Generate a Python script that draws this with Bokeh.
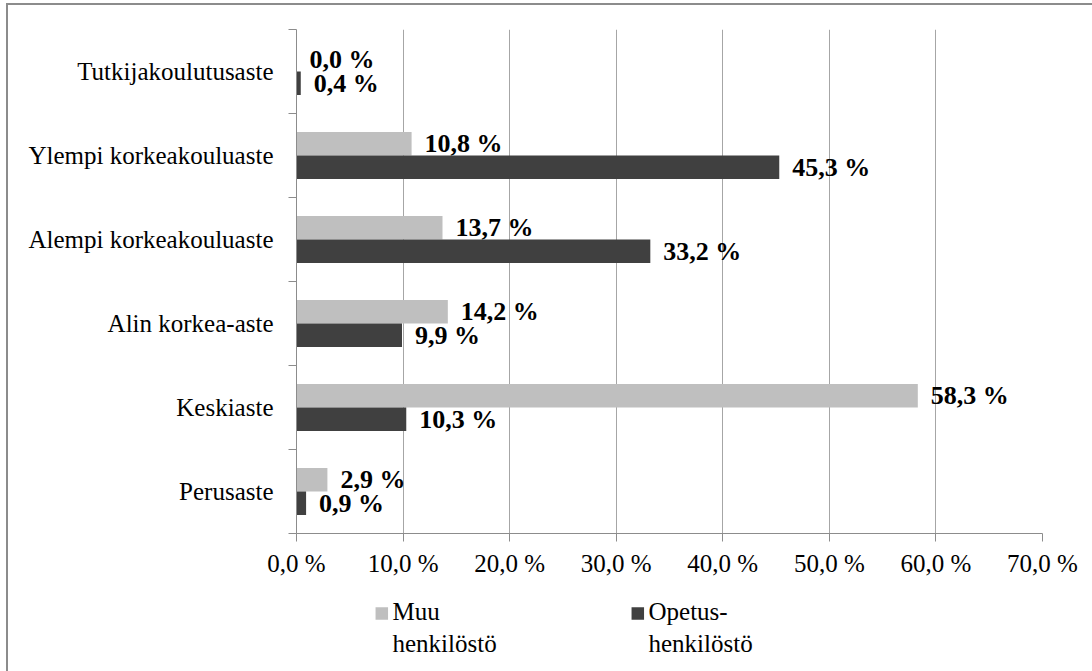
from bokeh.plotting import figure
from bokeh.layouts import column
from bokeh.models import ColumnDataSource, Range1d, FixedTicker
from bokeh.core.properties import value
from bokeh.embed import file_html
from bokeh.resources import INLINE

# Education levels, bottom to top
categories = ["Perusaste", "Keskiaste", "Alin korkea-aste",
              "Alempi korkeakouluaste", "Ylempi korkeakouluaste", "Tutkijakoulutusaste"]
muu_values = [2.9, 58.3, 14.2, 13.7, 10.8, 0.0]
opetus_values = [0.9, 10.3, 9.9, 33.2, 45.3, 0.4]
series_names = ["Muu\nhenkilöstö", "Opetus-\nhenkilöstö"]
x_ticks = [0, 10, 20, 30, 40, 50, 60, 70]
x_tick_labels = ["0,0 %", "10,0 %", "20,0 %", "30,0 %", "40,0 %", "50,0 %", "60,0 %", "70,0 %"]

LIGHT = "#bfbfbf"
DARK = "#404040"
AXIS = "#8c8c8c"
FONT = "Liberation Serif"
BAR_H = 0.28
SHIFT = BAR_H / 2


def fmt(v):
    return f"{v:.1f}".replace(".", ",") + " %"


centers = [i + 0.5 for i in range(len(categories))]
muu_src = ColumnDataSource(dict(
    y=[c + SHIFT for c in centers], v=muu_values, lbl=[fmt(v) for v in muu_values]))
ope_src = ColumnDataSource(dict(
    y=[c - SHIFT for c in centers], v=opetus_values, lbl=[fmt(v) for v in opetus_values]))

W = 1084
BL, BR = 288, 50
p = figure(width=W, height=585, output_backend="svg", toolbar_location=None,
           x_range=Range1d(0, 70), y_range=Range1d(0, len(categories)),
           min_border_left=BL, min_border_right=BR, min_border_top=24, min_border_bottom=57)
p.outline_line_color = None
p.background_fill_color = "white"
p.border_fill_color = "white"

p.hbar(y="y", right="v", left=0, height=BAR_H, source=muu_src, color=LIGHT, line_color=None)
p.hbar(y="y", right="v", left=0, height=BAR_H, source=ope_src, color=DARK, line_color=None)

for src in (muu_src, ope_src):
    p.text(x="v", y="y", text="lbl", source=src, x_offset=13,
           text_font=value(FONT), text_font_style="bold", text_font_size="26px",
           text_baseline="middle", text_align="left", text_color="black")

# x axis
xa = p.xaxis[0]
xa.ticker = FixedTicker(ticks=x_ticks)
xa.major_label_overrides = {t: s for t, s in zip(x_ticks, x_tick_labels)}
xa.major_tick_out = 8
xa.major_tick_in = 0
xa.minor_tick_line_color = None
xa.axis_line_color = AXIS
xa.major_tick_line_color = AXIS
xa.major_label_text_font = FONT
xa.major_label_text_font_size = "25px"
xa.major_label_text_color = "black"
xa.major_label_standoff = 8

# y axis: labels at category centres, tick marks between categories
ya = p.yaxis[0]
ya.ticker = FixedTicker(ticks=centers, minor_ticks=list(range(len(categories) + 1)))
ya.major_label_overrides = {c: name for c, name in zip(centers, categories)}
ya.major_tick_out = 0
ya.major_tick_in = 0
ya.minor_tick_out = 8
ya.minor_tick_in = 0
ya.minor_tick_line_color = AXIS
ya.axis_line_color = AXIS
ya.major_label_text_font = FONT
ya.major_label_text_font_size = "25px"
ya.major_label_text_color = "black"
ya.major_label_standoff = 15

p.xgrid.grid_line_color = "#a6a6a6"
p.xgrid.ticker = FixedTicker(ticks=x_ticks[1:])
p.ygrid.grid_line_color = None

# legend strip below the chart; its ranges are in page pixels
lg = figure(width=W, height=81, output_backend="svg", toolbar_location=None,
            x_range=Range1d(8 + BL, 8 + W - BR), y_range=Range1d(671, 590),
            min_border_left=BL, min_border_right=BR, min_border_top=0, min_border_bottom=0)
lg.outline_line_color = None
lg.axis.visible = False
lg.grid.visible = False
item_x = [375, 631]
lg.rect(x=[x + 6.3 for x in item_x], y=[613, 613], width=12.5, height=12.5,
        color=[LIGHT, DARK], line_color=None)
lg.text(x=[x + 17 for x in item_x], y=[597, 597], text=series_names,
        text_font=value(FONT), text_font_size="25px", text_baseline="top",
        text_line_height=1.2, text_color="black")

layout = column(p, lg, spacing=0,
                styles={"margin-left": "6px", "margin-top": "3px",
                        "border-left": "2px solid #8c8c8c", "border-top": "2px solid #8c8c8c"})

open("out.html", "w").write(file_html(layout, INLINE))
